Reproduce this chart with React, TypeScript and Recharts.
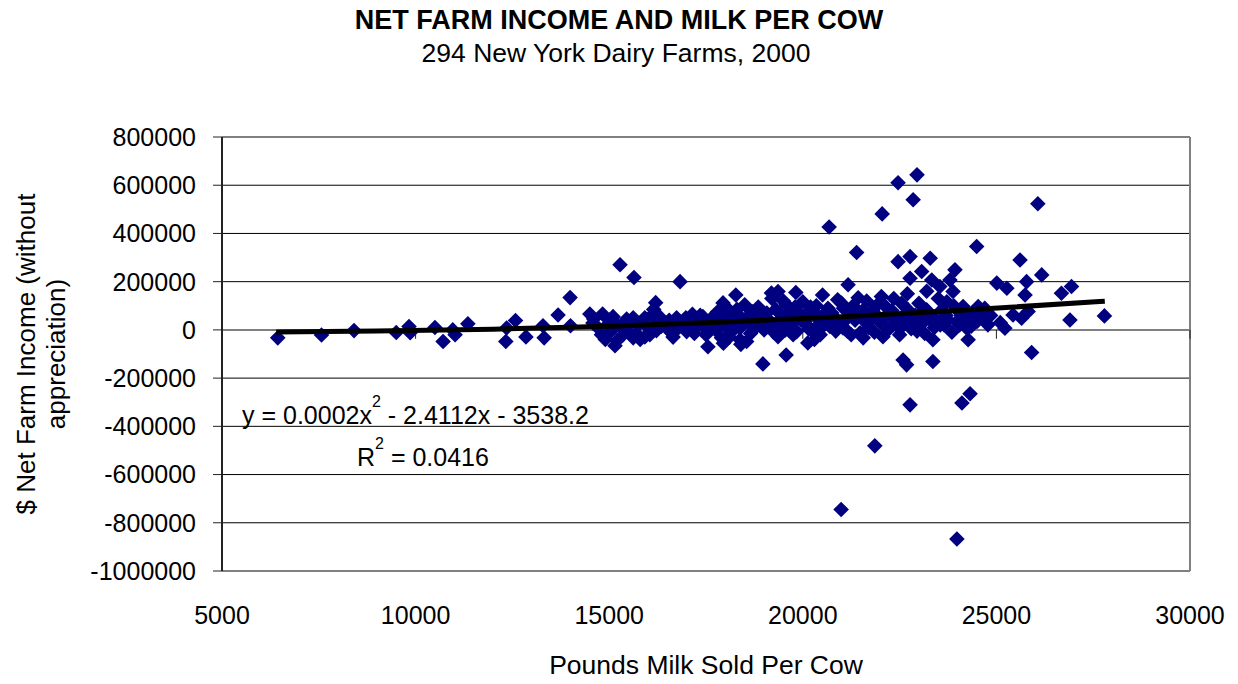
import { ScatterChart, Scatter, XAxis, YAxis, CartesianGrid, ReferenceLine } from 'recharts';

// pounds of milk sold per cow, one entry per farm
const milkPerCow = [
  6440, 7570, 8410, 9500, 9830, 9860, 10500, 10710, 10960, 11020, 11350, 12350, 12330, 12580, 12850, 13290, 13320, 13680,
  13990, 14000, 14500, 14580, 14830, 14800, 15150, 15150, 15280, 15360, 15640, 15620, 15620, 15920, 15920, 16200, 16220,
  16220, 16610, 16740, 16830, 16980, 17000, 17260, 14700, 15000, 15050, 15300, 15450, 15500, 15750, 15800, 16000, 16100,
  16400, 16500, 16700, 16900, 15200, 14950,
  17090, 17420, 17550, 17600, 17900, 17940, 18070, 18270, 18380, 18380, 18500, 18550, 18580, 18810, 18970, 19070, 19190,
  19360, 19360, 19410, 19570, 19580, 19670, 19820, 19840, 20000, 20060, 20130, 20280, 20360, 20510, 20530, 20700, 21000,
  21040, 21170, 21390, 21430, 21480, 21560, 21600,
  17300, 17500, 17700, 17800, 18000, 18150, 18200, 18300, 18450, 18650, 18700, 18900, 19000, 19150, 19250, 19300, 19450,
  19500, 19700, 19750, 19900, 19950, 20150, 20200, 20400, 20450, 20600, 20650, 20800, 20850, 20900, 21100, 21200, 21250,
  21300, 21450, 17150, 17650, 18100, 18750, 19600,
  21940, 22030, 22070, 22330, 22460, 22590, 22680, 22720, 22770, 22770, 22850, 23070, 23200, 23290, 23330, 23360, 23360,
  23450, 23540, 23590, 23720, 23800, 23930, 23880, 23980, 24140, 24270, 24490, 24530, 24620, 24780, 25010, 25270, 25220,
  21700, 21800, 21850, 22000, 22150, 22200, 22250, 22400, 22500, 22550, 22600, 22900, 22950, 23000, 23100, 23150, 23250,
  23400, 23500, 23650, 23700, 23850, 24000, 24050, 24200, 24350, 24400, 24700, 23200, 22350,
  25430, 25610, 25650, 25740, 25780, 25820, 25910, 26170, 26680, 26900, 26940, 27790,
  20680, 22050, 22460, 22850, 22950, 26070, 20990, 21860, 22770, 24110, 24320, 23980,
  14600, 14900, 15100, 15400, 15550, 15700, 15850, 16050, 16300, 16350, 16550, 16650, 16800, 17050, 17200, 17350, 17450,
  17750, 17850, 18050, 18250, 18350, 18600, 18850, 18950, 19050, 19100, 19400, 19550, 19650, 19800, 20050, 20100, 20250,
  20350, 20550, 20750, 20950, 21050, 21150, 21350, 21550, 21650, 21750, 21900, 22100, 22300, 22450, 22650, 22800, 23050,
  23300, 23550, 23750, 23900, 24100, 24250, 24500, 24850, 25100, 18400, 20300, 19200, 22700, 16150, 17950,
];

// net farm income without appreciation, $, same order as milkPerCow
const netFarmIncome = [
  -33000, -21000, -3000, -11000, 14000, -12000, 10000, -48000, 0, -20000, 25000, 8000, -48000, 39000, -29000, 17000, -33000, 62000,
  134000, 17000, 66000, 29000, 66000, -20000, 29000, -66000, 270000, -20000, 217000, 50000, -33000, 50000, -29000, 113000, 41000,
  -3000, -12000, 50000, 200000, 50000, -7000, 41000, 10000, 40000, -5000, 15000, 45000, -10000, 20000, -40000, 10000, 60000,
  30000, 5000, 20000, 30000, -45000, 20000,
  8000, 55000, -70000, 8000, -33000, 112000, 62000, 145000, 8000, -41000, 104000, -48000, 55000, 21000, -141000, 70000, 153000,
  159000, -28000, 14000, -104000, 104000, 55000, 155000, -7000, 117000, 35000, -54000, 76000, 14000, 145000, 62000, 14000, 111000,
  8000, 187000, 321000, 133000, -12000, -33000, 35000,
  20000, -20000, 35000, 75000, 15000, -10000, 40000, 85000, 30000, -15000, 75000, 45000, 0, 30000, -10000, 85000, 45000,
  120000, 25000, -20000, 70000, 40000, 5000, 95000, 45000, -20000, 30000, 90000, 55000, -5000, 125000, 40000, 70000, -20000,
  100000, 60000, 65000, 50000, -30000, 5000, 65000,
  55000, 138000, -28000, 21000, 283000, -125000, -145000, 83000, 304000, 214000, 28000, 242000, 83000, 297000, 207000, -41000, -131000,
  41000, 180000, 83000, 117000, 207000, 249000, 159000, 35000, 97000, -41000, 346000, 97000, 55000, 21000, 194000, 173000, 7000,
  10000, 80000, -10000, 30000, 95000, 0, 60000, 40000, -20000, 110000, 20000, 60000, -5000, 110000, 30000, -15000, 60000,
  10000, 130000, 20000, 60000, -10000, 80000, 20000, 45000, 15000, 70000, 90000, 160000, 130000,
  62000, 290000, 48000, 145000, 200000, 76000, -94000, 228000, 152000, 41000, 180000, 58000,
  427000, 481000, 610000, 540000, 643000, 523000, -745000, -481000, -311000, -303000, -265000, -867000,
  45000, -40000, 55000, 0, 25000, -15000, 35000, -20000, 55000, 15000, 40000, -30000, 10000, 25000, -15000, 60000, 10000,
  0, 45000, 90000, 20000, 60000, 35000, 95000, 60000, 15000, 45000, 70000, 0, 35000, 95000, 60000, 20000, -5000,
  100000, 20000, 70000, 20000, 90000, -5000, 40000, 80000, 120000, 40000, 100000, 50000, 80000, 15000, 55000, 5000, 70000,
  40000, 20000, 40000, 100000, 60000, 5000, 35000, 60000, 30000, -60000, -40000, 130000, 150000, 85000, -55000,
];

// polynomial trend line
const trendMilk = [6400, 9000, 12000, 15000, 18000, 21000, 24000, 27800];
const trendIncome = [-9000, -5000, 3000, 15000, 33000, 54000, 80000, 119000];

const xTicks = [5000, 10000, 15000, 20000, 25000, 30000];
const yTicks = [-1000000, -800000, -600000, -400000, -200000, 0, 200000, 400000, 600000, 800000];

const farms = milkPerCow.map((x, i) => ({ x, y: netFarmIncome[i] }));
const trend = trendMilk.map((x, i) => ({ x, y: trendIncome[i] }));

const FONT = '"Liberation Sans", Arial, Helvetica, sans-serif';
const NAVY = '#000080';

const Diamond = (props: any) => {
  const { cx, cy } = props;
  if (cx == null || cy == null) return <g />;
  const r = 7.8;
  return (
    <polygon
      points={`${cx},${cy - r} ${cx + r},${cy} ${cx},${cy + r} ${cx - r},${cy}`}
      fill={NAVY}
    />
  );
};

export default function App() {
  return (
    <div style={{ position: 'absolute', left: 0, top: 0, width: 1238, height: 684, background: '#fff', fontFamily: FONT }}>
      <ScatterChart width={1238} height={684} margin={{ top: 137, right: 48, bottom: 0, left: 0 }}>
        <CartesianGrid vertical={false} stroke="#000" strokeWidth={1} />
        <XAxis
          type="number"
          dataKey="x"
          domain={[5000, 30000]}
          ticks={xTicks}
          height={113}
          axisLine={false}
          tickLine={false}
          tickSize={0}
          tickMargin={35}
          tick={{ fill: '#000', fontSize: 25, fontFamily: FONT }}
          allowDataOverflow
        />
        <YAxis
          type="number"
          dataKey="y"
          domain={[-1000000, 800000]}
          ticks={yTicks}
          width={222}
          axisLine={{ stroke: '#222', strokeWidth: 2 }}
          tickLine={{ stroke: '#222' }}
          tickSize={9}
          tickMargin={17}
          tick={{ fill: '#000', fontSize: 25, fontFamily: FONT }}
          allowDataOverflow
        />
        <ReferenceLine y={800000} stroke="#808080" strokeWidth={2} />
        <ReferenceLine y={-1000000} stroke="#808080" strokeWidth={2} />
        <ReferenceLine x={30000} stroke="#808080" strokeWidth={2} />
        <ReferenceLine y={0} stroke="#808080" strokeWidth={2} />
        {xTicks.map((t) => (
          <ReferenceLine
            key={t}
            segment={[{ x: t, y: 0 }, { x: t, y: -37000 }]}
            stroke="#222"
            strokeWidth={1}
          />
        ))}
        <Scatter data={farms} shape={Diamond} isAnimationActive={false} />
        <Scatter
          data={trend}
          shape={() => <g />}
          line={{ stroke: '#000', strokeWidth: 5 }}
          lineJointType="monotoneX"
          isAnimationActive={false}
        />
      </ScatterChart>
      <svg
        width={1238}
        height={684}
        style={{ position: 'absolute', left: 0, top: 0, pointerEvents: 'none' }}
        fontFamily={FONT}
      >
        <text x={619} y={29} textAnchor="middle" fontSize={27} fontWeight="bold" fill="#000">
          NET FARM INCOME AND MILK PER COW
        </text>
        <text x={616} y={62} textAnchor="middle" fontSize={26.5} fill="#000">
          294 New York Dairy Farms, 2000
        </text>
        <text x={706} y={674} textAnchor="middle" fontSize={26.5} fill="#000">
          Pounds Milk Sold Per Cow
        </text>
        <text x={35} y={354} textAnchor="middle" fontSize={26} fill="#000" transform="rotate(-90 35 354)">
          $ Net Farm Income (without
        </text>
        <text x={65} y={354} textAnchor="middle" fontSize={26} fill="#000" transform="rotate(-90 65 354)">
          appreciation)
        </text>
        <text x={242} y={424} fontSize={25} fill="#000">
          y = 0.0002x<tspan dy={-17} fontSize={16}>2</tspan>
          <tspan dy={17}> - 2.4112x - 3538.2</tspan>
        </text>
        <text x={357} y={466} fontSize={25} fill="#000">
          R<tspan dy={-17} fontSize={16}>2</tspan>
          <tspan dy={17}> = 0.0416</tspan>
        </text>
      </svg>
    </div>
  );
}
